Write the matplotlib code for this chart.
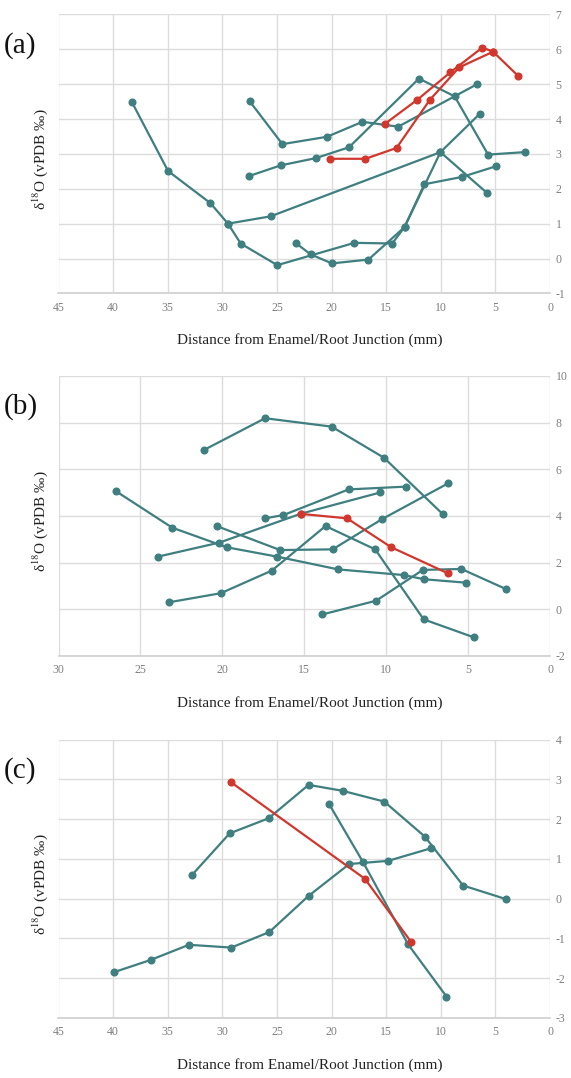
import matplotlib
matplotlib.use("Agg")
import matplotlib.pyplot as plt

TEAL = "#3f7f80"
RED = "#d1372c"
GRID = "#dcdcdc"
TICK = "#7f7f7f"

# ---------------- panel (a) ----------------
a_teal_x = [
    [27.5, 24.5, 20.43, 17.17, 13.9, 6.67],
    [27.6, 24.67, 21.43, 18.4, 12.0, 8.73, 5.67, 2.33],
    [29.48, 25.58, 10.03, 6.43],
    [38.27, 34.97, 31.1, 29.48, 28.32, 24.97, 17.9, 14.45, 13.32, 11.5, 8.05, 4.9],
    [23.3, 21.92, 19.97, 16.62, 13.32, 10.03, 5.73],
]
a_teal_y = [
    [4.51, 3.28, 3.49, 3.92, 3.78, 5.0],
    [2.36, 2.67, 2.88, 3.19, 5.16, 4.65, 2.98, 3.05],
    [1.0, 1.21, 3.05, 4.15],
    [4.48, 2.51, 1.59, 1.0, 0.43, -0.19, 0.45, 0.43, 0.9, 2.13, 2.34, 2.65],
    [0.45, 0.12, -0.14, -0.03, 0.9, 3.05, 1.87],
]
a_red_x = [
    [20.1, 16.9, 14.05, 11.0, 8.32, 5.21, 2.93],
    [15.12, 12.16, 9.12, 6.19, 5.21],
]
a_red_y = [
    [2.86, 2.86, 3.17, 4.55, 5.48, 5.93, 5.24],
    [3.86, 4.55, 5.34, 6.05, 5.93],
]

# ---------------- panel (b) ----------------
b_teal_x = [
    [21.12, 17.39, 13.33, 10.14, 6.53],
    [26.51, 23.06, 19.73, 16.67, 12.92, 8.94, 7.69, 5.1],
    [23.92, 20.18, 15.2, 10.35],
    [17.39, 16.27, 12.29, 8.76],
    [20.35, 16.47, 13.27, 10.24, 6.22],
    [23.27, 20.1, 16.98, 13.7, 10.67, 7.71, 4.65],
    [13.9, 10.61, 7.76, 5.41, 2.69],
]
b_teal_y = [
    [6.83, 8.19, 7.83, 6.5, 4.07],
    [5.07, 3.5, 2.66, 2.26, 1.71, 1.47, 1.29, 1.14],
    [2.26, 2.86, 4.1, 5.01],
    [3.9, 4.04, 5.14, 5.26],
    [3.57, 2.54, 2.57, 3.87, 5.4],
    [0.3, 0.69, 1.66, 3.57, 2.57, -0.43, -1.2],
    [-0.22, 0.37, 1.69, 1.73, 0.87],
]
b_red_x = [[15.2, 12.39, 9.69, 6.22]]
b_red_y = [[4.09, 3.9, 2.66, 1.54]]

# ---------------- panel (c) ----------------
c_teal_x = [
    [32.76, 29.33, 25.76, 22.1, 18.99, 15.18, 11.46, 7.96, 4.05],
    [20.21, 17.1, 12.99, 9.48],
    [39.94, 36.55, 33.06, 29.18, 25.7, 22.1, 18.38, 14.82, 10.85],
]
c_teal_y = [
    [0.6, 1.64, 2.02, 2.86, 2.71, 2.44, 1.56, 0.33, -0.01],
    [2.37, 0.91, -1.15, -2.46],
    [-1.85, -1.54, -1.16, -1.23, -0.84, 0.07, 0.87, 0.95, 1.27],
]
c_red_x = [[29.18, 16.95, 12.74]]
c_red_y = [[2.92, 0.5, -1.08]]

panel_labels = ["(a)", "(b)", "(c)"]
x_limits = [(45, 0), (30, 0), (45, 0)]
x_steps = [5, 5, 5]
y_limits = [(-1, 7), (-2, 10), (-3, 4)]
y_steps = [1, 2, 1]
xlabel = "Distance from Enamel/Root Junction (mm)"
ylabel = "δ$^{18}$O (vPDB ‰)"

plt.rcParams["mathtext.fontset"] = "stix"
plt.rcParams["axes.unicode_minus"] = False
SERIF = ["Liberation Serif", "DejaVu Serif"]

W, H = 571, 1078
fig = plt.figure(figsize=(W / 100, H / 100), dpi=100)

# axes boxes in pixels: left, right, top, bottom
boxes = [(58.5, 550, 14.4, 293.4), (58.5, 550, 376, 656), (58.5, 550, 739.5, 1018)]
teal_sets = [(a_teal_x, a_teal_y), (b_teal_x, b_teal_y), (c_teal_x, c_teal_y)]
red_sets = [(a_red_x, a_red_y), (b_red_x, b_red_y), (c_red_x, c_red_y)]

for i in range(3):
    l, r, t, b = boxes[i]
    ax = fig.add_axes([l / W, 1 - b / H, (r - l) / W, (b - t) / H])
    x0, x1 = x_limits[i]
    y0, y1 = y_limits[i]
    ax.set_xlim(x0, x1)
    ax.set_ylim(y0, y1)
    ax.set_xticks(range(0, x0 + 1, x_steps[i]))
    ax.set_yticks(range(y0, y1 + 1, y_steps[i]))
    ax.grid(True, color=GRID, lw=1.0)
    ax.set_axisbelow(True)
    for s in ["top", "left", "right"]:
        ax.spines[s].set_visible(False)
    ax.spines["bottom"].set_color("#cfcfcf")
    ax.spines["bottom"].set_linewidth(1.2)
    ax.yaxis.tick_right()
    ax.tick_params(axis="both", length=0, labelsize=8.5, labelcolor=TICK)
    ax.tick_params(axis="x", pad=6)
    ax.tick_params(axis="y", pad=4)
    for lab in ax.get_xticklabels() + ax.get_yticklabels():
        lab.set_family(SERIF)

    tx, ty = teal_sets[i]
    for xs, ys in zip(tx, ty):
        ax.plot(xs, ys, color=TEAL, lw=1.6, marker="o", ms=4.8, zorder=3)
    rx, ry = red_sets[i]
    for xs, ys in zip(rx, ry):
        ax.plot(xs, ys, color=RED, lw=1.6, marker="o", ms=4.8, zorder=4)

    fig.text(4 / W, 1 - (t + 31) / H, panel_labels[i], fontsize=21,
             family=SERIF, color="#111111", va="center", ha="left")
    fig.text(40 / W, 1 - ((t + b) / 2 + 5) / H, ylabel, rotation=90, fontsize=11,
             family=SERIF, color="#222222", va="center", ha="center")
    fig.text(310 / W, 1 - (b + 47) / H, xlabel, fontsize=11,
             family=SERIF, color="#222222", va="center", ha="center")

fig.savefig("out.png", dpi=100)
